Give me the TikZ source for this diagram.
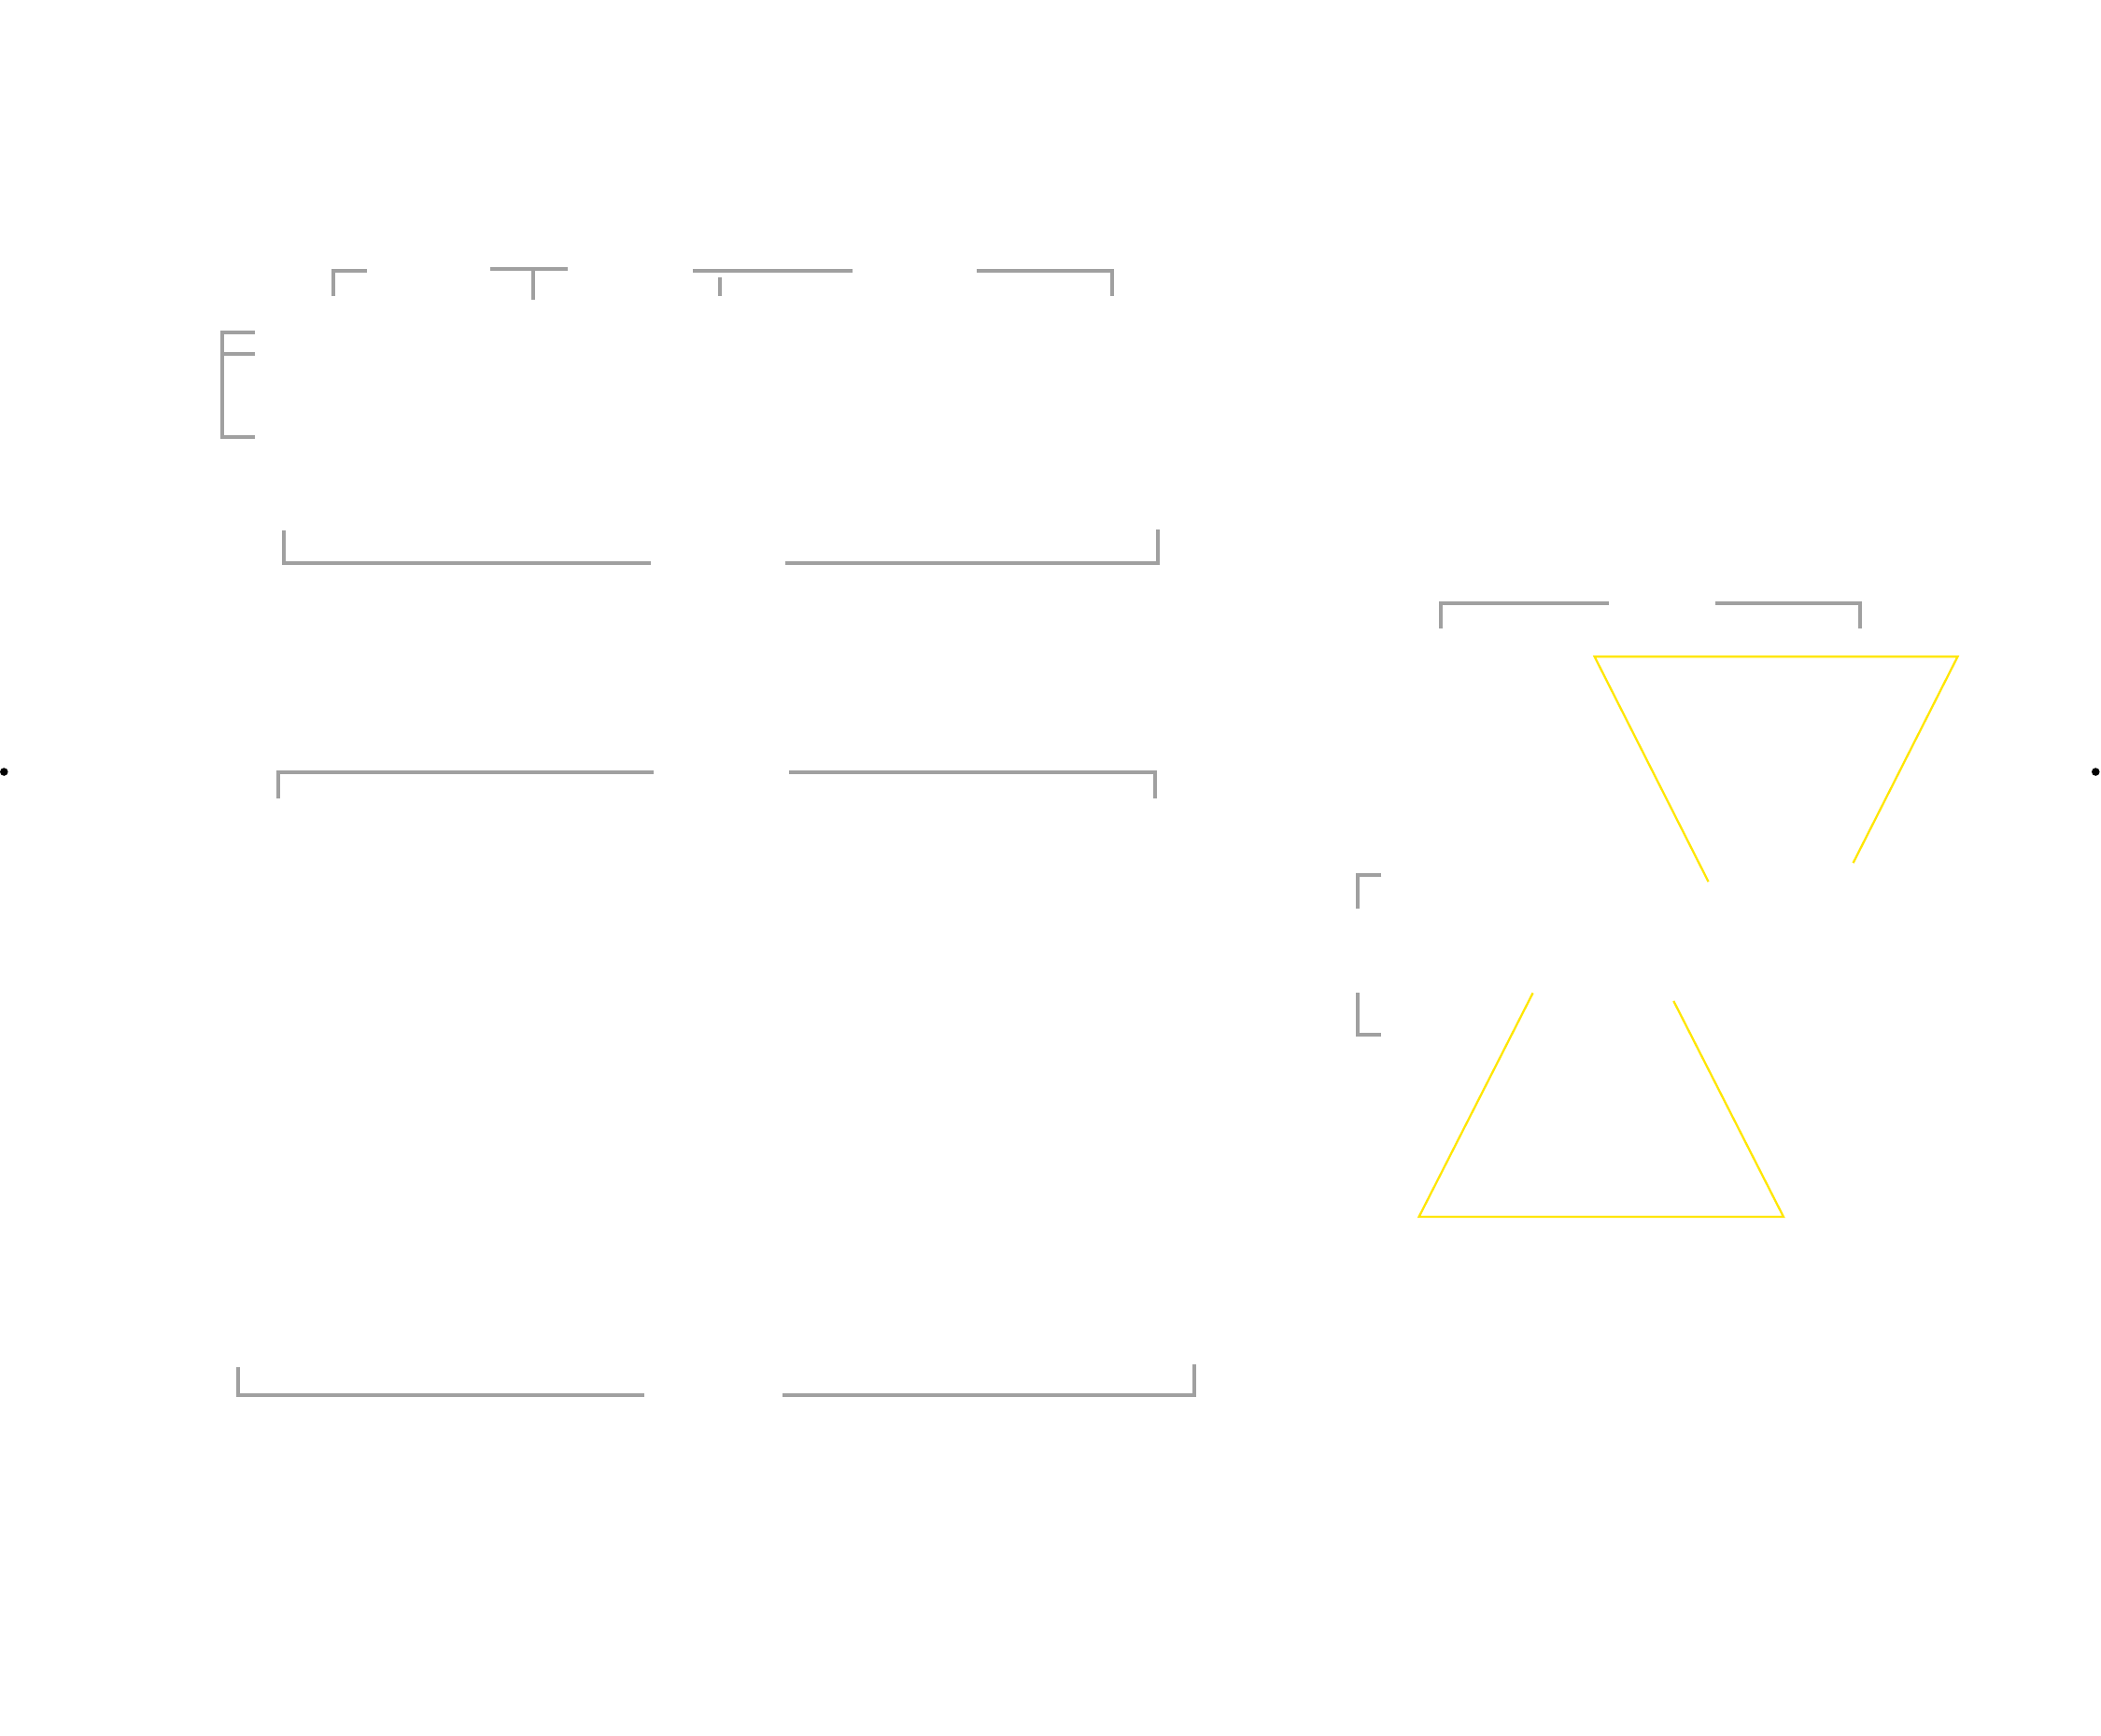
\documentclass[tikz,border=0pt]{standalone}
\usepackage{tikz}
\usetikzlibrary{positioning}
\definecolor{guidegray}{RGB}{160,160,160}
\definecolor{coneyellow}{RGB}{255,230,0}
\tikzset{guide/.style={draw=guidegray, line width=1.6pt}, cone/.style={draw=coneyellow, line width=0.9pt, line join=miter}, anchordot/.style={fill=black}}

\begin{document}
\begin{tikzpicture}[x=0.2mm,y=-0.2mm]
                \useasboundingbox[fill=white] (0,0) rectangle (1568,1295);

                % top row
                \draw[guide] (249,221)--(249,202)--(274,202);
                \draw[guide] (366,201)--(424,201);
                \draw[guide] (398,201)--(398,224);
                \draw[guide] (517,202)--(636,202);
                \draw[guide] (537,207)--(537,221);
                \draw[guide] (729,202)--(830,202)--(830,221);

                % left bracket
                \draw[guide] (190,248)--(166,248)--(166,326)--(190,326);
                \draw[guide] (166,264)--(190,264);

                \draw[guide] (212,396)--(212,420)--(486,420);
                \draw[guide] (586,420)--(864,420)--(864,395);

                \draw[guide] (208,596)--(208,576)--(488,576);
                \draw[guide] (589,576)--(862,576)--(862,596);

                \draw[guide] (178,1020)--(178,1041)--(481,1041);
                \draw[guide] (584,1041)--(891,1041)--(891,1018);

                % right side
                \draw[guide] (1075,469)--(1075,450)--(1201,450);
                \draw[guide] (1280,450)--(1388,450)--(1388,469);
                \draw[guide] (1031,653)--(1013,653)--(1013,678);
                \draw[guide] (1013,741)--(1013,772)--(1031,772);

                \draw[cone] (1275,658)--(1190,490)--(1461,490)--(1383,644);
                \draw[cone] (1144,741)--(1059,908)--(1331,908)--(1249,747);

                \filldraw[anchordot] (3,576) circle (2.6);
                \filldraw[anchordot] (1564,576) circle (2.6);
\end{tikzpicture}
\end{document}
